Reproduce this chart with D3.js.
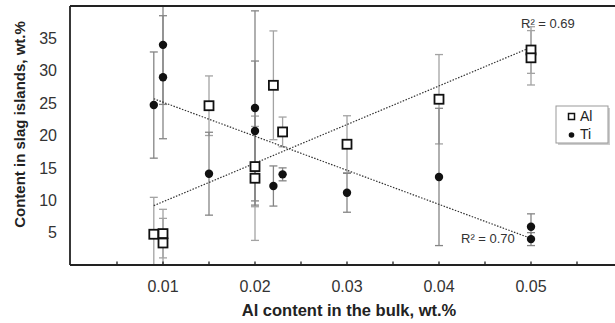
<!DOCTYPE html>
<html>
<head>
<meta charset="utf-8">
<script src="https://cdn.jsdelivr.net/npm/d3@7"></script>
<style>
  body { margin: 0; background: #fff; }
  svg { font-family: "Liberation Sans", Arial, sans-serif; }
</style>
</head>
<body>
<div id="chart"></div>
<script>
// Al content in the bulk (x) for each measured point
var alX = [0.009, 0.01, 0.01, 0.015, 0.02, 0.02, 0.022, 0.023, 0.03, 0.04, 0.05, 0.05];
var alY = [4.75, 4.85, 3.4, 24.6, 15.2, 13.4, 27.75, 20.55, 18.65, 25.6, 33.2, 32.0];
var alErr = [5.7, 3.75, 3.8, 4.6, 6.2, 9.6, 8.4, 2.3, 4.4, 6.9, 3.6, 4.2];

var tiX = [0.009, 0.01, 0.01, 0.015, 0.02, 0.02, 0.022, 0.023, 0.03, 0.04, 0.05, 0.05];
var tiY = [24.7, 34.0, 29.0, 14.1, 24.25, 20.7, 12.2, 14.0, 11.15, 13.6, 5.9, 4.0];
var tiErr = [8.2, 9.2, 9.5, 6.4, 15.0, 10.8, 3.1, 1.0, 3.0, 10.6, 2.0, 1.0];

var xTickValues = [0.01, 0.02, 0.03, 0.04, 0.05];
var xMinorTicks = [0.005, 0.01, 0.015, 0.02, 0.025, 0.03, 0.035, 0.04, 0.045, 0.05, 0.055];
var yTickValues = [5, 10, 15, 20, 25, 30, 35];
var r2Labels = {Al: 'R² = 0.69', Ti: 'R² = 0.70'};

var width = 615, height = 323;
var x0 = 71, xEnd = 623, yTop = 6, yBottom = 265;

var x = d3.scaleLinear().domain([0, 0.06]).range([x0, xEnd]);
var y = d3.scaleLinear().domain([0, 40]).range([yBottom, yTop]);

var svg = d3.select('#chart').append('svg')
  .attr('width', width)
  .attr('height', height);

svg.append('clipPath').attr('id', 'plotClip')
  .append('rect')
  .attr('x', x0).attr('y', yTop)
  .attr('width', width - x0).attr('height', yBottom - yTop);

function toPoints(xs, ys, es){
  return xs.map(function(v, i){ return {x: v, y: ys[i], e: es[i]}; });
}
var alData = toPoints(alX, alY, alErr);
var tiData = toPoints(tiX, tiY, tiErr);

// least squares trend line
function fit(data){
  var mx = d3.mean(data, d => d.x), my = d3.mean(data, d => d.y);
  var sxy = d3.sum(data, d => (d.x - mx) * (d.y - my));
  var sxx = d3.sum(data, d => (d.x - mx) * (d.x - mx));
  var slope = sxy / sxx;
  var b = my - slope * mx;
  var ext = d3.extent(data, d => d.x);
  return ext.map(function(v){ return {x: v, y: slope * v + b}; });
}

var plot = svg.append('g').attr('clip-path', 'url(#plotClip)');

// error bars
function drawErr(data, color){
  var g = plot.append('g').attr('stroke', color).attr('stroke-width', 1.3);
  data.forEach(function(d){
    var px = x(d.x);
    g.append('line').attr('x1', px).attr('x2', px)
      .attr('y1', y(d.y - d.e)).attr('y2', y(d.y + d.e));
    [d.y - d.e, d.y + d.e].forEach(function(v){
      g.append('line').attr('x1', px - 4).attr('x2', px + 4)
        .attr('y1', y(v)).attr('y2', y(v));
    });
  });
}
drawErr(alData, '#a3a3a3');
drawErr(tiData, '#858585');

// trend lines
var line = d3.line().x(d => x(d.x)).y(d => y(d.y));
[alData, tiData].forEach(function(data){
  plot.append('path')
    .datum(fit(data))
    .attr('d', line)
    .attr('fill', 'none')
    .attr('stroke', '#333')
    .attr('stroke-width', 1.2)
    .attr('stroke-dasharray', '1.5,1.5');
});

// markers
plot.selectAll('.ti').data(tiData).enter().append('circle')
  .attr('cx', d => x(d.x)).attr('cy', d => y(d.y))
  .attr('r', 4.2).attr('fill', '#111');

plot.selectAll('.al').data(alData).enter().append('rect')
  .attr('x', d => x(d.x) - 4.5).attr('y', d => y(d.y) - 4.5)
  .attr('width', 9).attr('height', 9)
  .attr('fill', '#fff').attr('stroke', '#111').attr('stroke-width', 1.8);

// axes frame
svg.append('line').attr('x1', x0 - 1).attr('x2', width)
  .attr('y1', yTop).attr('y2', yTop)
  .attr('stroke', '#222').attr('stroke-width', 1.8);
svg.append('line').attr('x1', x0 - 1).attr('x2', x0 - 1)
  .attr('y1', yTop).attr('y2', yBottom)
  .attr('stroke', '#222').attr('stroke-width', 1.8);
svg.append('line').attr('x1', x0 - 1).attr('x2', width)
  .attr('y1', yBottom).attr('y2', yBottom)
  .attr('stroke', '#222').attr('stroke-width', 1.8);

// inside minor ticks
svg.selectAll('.xtick').data(xMinorTicks).enter().append('line')
  .attr('x1', d => x(d)).attr('x2', d => x(d))
  .attr('y1', yBottom).attr('y2', yBottom - 3.5)
  .attr('stroke', '#222').attr('stroke-width', 1.3);

svg.selectAll('.xlabel').data(xTickValues).enter().append('text')
  .attr('x', d => x(d)).attr('y', 291.5)
  .attr('text-anchor', 'middle')
  .attr('font-size', 16).attr('fill', '#333')
  .text(d => d3.format('.2f')(d));

svg.selectAll('.ylabel').data(yTickValues).enter().append('text')
  .attr('x', 57).attr('y', d => y(d) + 5.7)
  .attr('text-anchor', 'end')
  .attr('font-size', 16).attr('fill', '#333')
  .text(d => d);

svg.append('text')
  .attr('x', 349).attr('y', 315.5)
  .attr('text-anchor', 'middle')
  .attr('font-size', 16.5).attr('font-weight', 'bold').attr('fill', '#222')
  .text('Al content in the bulk, wt.%');

svg.append('text')
  .attr('transform', 'translate(25,124.5) rotate(-90)')
  .attr('text-anchor', 'middle')
  .attr('font-size', 15).attr('font-weight', 'bold').attr('fill', '#222')
  .text('Content in slag islands, wt.%');

// R² labels
svg.append('text').attr('x', 521).attr('y', 28)
  .attr('font-size', 13).attr('fill', '#333').text(r2Labels.Al);
svg.append('text').attr('x', 461).attr('y', 243)
  .attr('font-size', 13).attr('fill', '#333').text(r2Labels.Ti);

// legend
var legend = svg.append('g').attr('transform', 'translate(556,106)');
legend.append('rect').attr('x', 2).attr('y', 2).attr('width', 52).attr('height', 37)
  .attr('fill', '#ccc');
legend.append('rect').attr('x', 0).attr('y', 0).attr('width', 52).attr('height', 37)
  .attr('fill', '#fff').attr('stroke', '#999').attr('stroke-width', 1);
legend.append('rect').attr('x', 12.5).attr('y', 7.5).attr('width', 6).attr('height', 6)
  .attr('fill', '#fff').attr('stroke', '#111').attr('stroke-width', 1.5);
legend.append('text').attr('x', 24).attr('y', 15).attr('font-size', 14)
  .attr('fill', '#222').text('Al');
legend.append('circle').attr('cx', 15.5).attr('cy', 29).attr('r', 2.8).attr('fill', '#111');
legend.append('text').attr('x', 24).attr('y', 33).attr('font-size', 14)
  .attr('fill', '#222').text('Ti');
</script>
</body>
</html>
